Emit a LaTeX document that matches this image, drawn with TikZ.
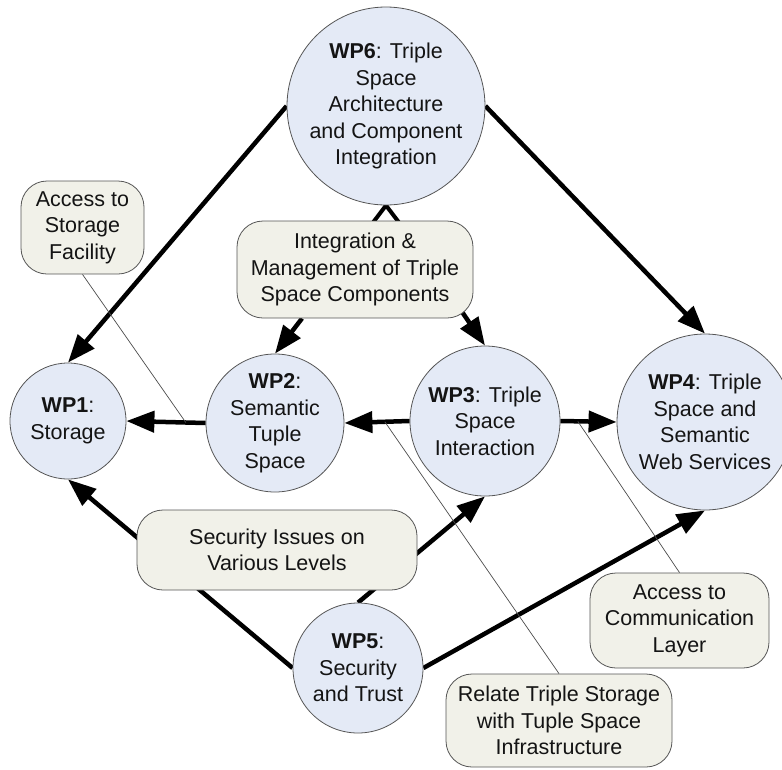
\documentclass[tikz,border=0pt]{standalone}
\usepackage{fontspec}
\setmainfont{Liberation Sans}
\usetikzlibrary{arrows.meta,calc}
\definecolor{circfill}{RGB}{228,234,246}
\definecolor{boxfill}{RGB}{241,241,233}
\definecolor{edgegray}{RGB}{85,85,85}
\pgfdeclarelayer{bg}
\pgfsetlayers{bg,main}
\begin{document}
\begin{tikzpicture}[x=1pt,y=-1pt,
  txt/.style={font=\fontsize{21.5}{26.5}\selectfont,align=center,text=black!92},
  wp/.style={txt,circle,draw=edgegray,line width=0.8pt,fill=circfill,inner sep=0pt},
  lbl/.style={txt,rectangle,rounded corners=26pt,draw=edgegray,line width=0.8pt,fill=boxfill,inner sep=0pt},
  flow/.style={line width=4.5pt,-{Triangle[length=28pt,width=21pt]}},
  plainflow/.style={line width=4.5pt},
  note/.style={draw=black!70,line width=0.7pt}]
\useasboundingbox (0,0) rectangle (782,769);
\clip (0,0) rectangle (782,769);

% work packages
\node[wp,minimum size=198pt] (wp6) at (386,106) {\textbf{WP6}: Triple\\Space\\Architecture\\and Component\\Integration};
\node[wp,minimum size=116pt] (wp1) at (68,421) {\textbf{WP1}:\\Storage};
\node[wp,minimum size=138pt] (wp2) at (275,423) {\textbf{WP2}:\\Semantic\\Tuple\\Space};
\node[wp,minimum size=150pt] (wp3) at (485,421) {\textbf{WP3}: Triple\\Space\\Interaction};
\node[wp,minimum size=176pt] (wp4) at (705,422) {\textbf{WP4}: Triple\\Space and\\Semantic\\Web Services};
\node[wp,minimum size=130pt] (wp5) at (358,668) {\textbf{WP5}:\\Security\\and Trust};

% labels
\node[lbl,minimum width=123pt,minimum height=93pt] (acs) at (82.5,227.5) {Access to\\Storage\\Facility};
\node[lbl,minimum width=236pt,minimum height=97pt] (int) at (355,269.5) {Integration \&\\Management of Triple\\Space Components};
\node[lbl,minimum width=280pt,minimum height=80pt] (sec) at (277,550) {Security Issues on\\Various Levels};
\node[lbl,minimum width=179pt,minimum height=95pt] (acc) at (679.5,620.5) {Access to\\Communication\\Layer};
\node[lbl,minimum width=226pt,minimum height=93pt] (rel) at (559,720.5) {Relate Triple Storage\\with Tuple Space\\Infrastructure};

\begin{pgfonlayer}{bg}
% thick connectors
\draw[flow] (wp6.west) -- (wp1.north);
\draw[flow] (wp6.east) -- (wp4.north);
\draw[line width=4pt,line join=miter] ($(wp6.south)+(-19,25)$) -- (wp6.south) -- ($(wp6.south)+(19,25)$);
\draw[flow] ([xshift=-53pt]int.south) -- (wp2.north);
\draw[flow] ([xshift=-11pt,yshift=6pt]int.south east) -- (wp3.north);
\draw[flow] (wp2.west) -- (wp1.east);
\draw[flow] (wp3.west) -- (wp2.east);
\draw[flow] (wp3.east) -- (wp4.west);
\draw[flow] (wp5.west) -- (wp1.south);
\draw[flow] (wp5.north) -- (wp3.south);
\draw[flow] (wp5.east) -- (wp4.south);
% thin callout lines
\coordinate (c1) at ($(wp1.east)!0.75!(wp2.west)$);
\coordinate (c2) at ($(wp3.west)!0.38!(wp2.east)$);
\coordinate (c3) at ($(wp3.east)!0.31!(wp4.west)$);
\draw[note] (acs.south) -- (c1);
\draw[note] (rel.north) -- (c2);
\draw[note] (acc.north) -- (c3);
\end{pgfonlayer}
\end{tikzpicture}
\end{document}
